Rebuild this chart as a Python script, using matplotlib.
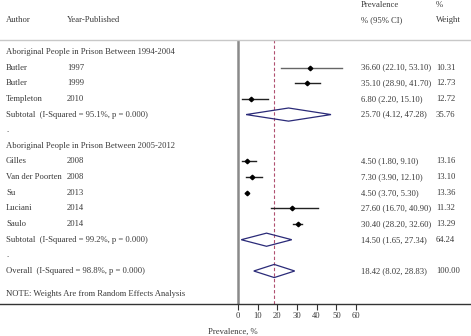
import matplotlib
matplotlib.use("Agg")
import matplotlib.pyplot as plt
import matplotlib.transforms as mtransforms
from matplotlib.patches import Polygon

# rows of the forest plot, top to bottom
authors = ["Butler", "Butler", "Templeton",
           "Gilles", "Van der Poorten", "Su", "Luciani", "Saulo"]
years = ["1997", "1999", "2010", "2008", "2008", "2013", "2014", "2014"]
est = [36.60, 35.10, 6.80, 4.50, 7.30, 4.50, 27.60, 30.40]
lo = [22.10, 28.90, 2.20, 1.80, 3.90, 3.70, 16.70, 28.20]
hi = [53.10, 41.70, 15.10, 9.10, 12.10, 5.30, 40.90, 32.60]
weights = ["10.31", "12.73", "12.72", "13.16", "13.10", "13.36", "11.32", "13.29"]
study_rows = [1, 2, 3, 7, 8, 9, 10, 11]

groups = ["Aboriginal People in Prison Between 1994-2004",
          "Aboriginal People in Prison Between 2005-2012"]
group_rows = [0, 6]

pooled_labels = ["Subtotal  (I-Squared = 95.1%, p = 0.000)",
                 "Subtotal  (I-Squared = 99.2%, p = 0.000)",
                 "Overall  (I-Squared = 98.8%, p = 0.000)"]
pooled_est = [25.70, 14.50, 18.42]
pooled_lo = [4.12, 1.65, 8.02]
pooled_hi = [47.28, 27.34, 28.83]
pooled_w = ["35.76", "64.24", "100.00"]
pooled_rows = [4, 12, 14]

xticks = [0, 10, 20, 30, 40, 50, 60]

W, H = 471, 336
fig = plt.figure(figsize=(W / 100, H / 100), dpi=100)
plt.rcParams['font.family'] = ['Liberation Serif', 'DejaVu Serif']
txt = "#3a3a3a"
fs = 6.2

# axes spans full width; x=0 lands at pixel 238, 1.967 px per unit
ppu = 1.967
x0 = 238
ax = fig.add_axes([0, 1 - 304 / H, 1, (304 - 40) / H])
ax.set_xlim(-x0 / ppu, (W - x0) / ppu)
row_h = 15.64
ax.set_ylim(14 + (304 - 271) / row_h, -(52 - 40) / row_h)

for s in ["left", "right"]:
    ax.spines[s].set_visible(False)
ax.spines["top"].set_color("#c8c8c8")
ax.spines["top"].set_linewidth(1.0)
ax.spines["bottom"].set_color("#333333")
ax.spines["bottom"].set_linewidth(1.0)
ax.set_yticks([])
ax.set_xticks(xticks)
ax.set_xticklabels([str(t) for t in xticks], fontsize=fs, color=txt)
ax.tick_params(axis="x", length=4, width=0.8, color="#333333", pad=1.5)

ax.axvline(0, color="#8a8a8a", lw=1.8, zorder=1)
ax.axvline(pooled_est[2], color="#b05070", lw=0.8, ls=(0, (3, 2)), zorder=1)

# studies
for i, r in enumerate(study_rows):
    c = "#666666" if i == 0 else "#222222"
    ax.plot([lo[i], hi[i]], [r, r], color=c, lw=1.0, zorder=3)
    ax.plot(est[i], r, marker="D", ms=2.3, color="black", zorder=4)

# pooled diamonds
for i, r in enumerate(pooled_rows):
    dh = 0.42
    poly = Polygon([[pooled_lo[i], r], [pooled_est[i], r - dh],
                    [pooled_hi[i], r], [pooled_est[i], r + dh]],
                   closed=True, fill=False, edgecolor="#2a2a78", lw=0.9, zorder=3)
    ax.add_patch(poly)

tr = mtransforms.blended_transform_factory(fig.transFigure, ax.transData)
xa, xy, xe, xw = 6 / W, 67 / W, 361 / W, 436 / W

for i, r in enumerate(study_rows):
    ax.text(xa, r, authors[i], transform=tr, fontsize=fs, color=txt, va="center")
    ax.text(xy, r, years[i], transform=tr, fontsize=fs, color=txt, va="center")
    ax.text(xe, r, "%.2f (%.2f, %.2f)" % (est[i], lo[i], hi[i]), transform=tr,
            fontsize=fs, color=txt, va="center")
    ax.text(xw, r, weights[i], transform=tr, fontsize=fs, color=txt, va="center")

for g, r in zip(groups, group_rows):
    ax.text(xa, r, g, transform=tr, fontsize=fs, color=txt, va="center")

for i, r in enumerate(pooled_rows):
    ax.text(xa, r, pooled_labels[i], transform=tr, fontsize=fs, color=txt, va="center")
    ax.text(xe, r, "%.2f (%.2f, %.2f)" % (pooled_est[i], pooled_lo[i], pooled_hi[i]),
            transform=tr, fontsize=fs, color=txt, va="center")
    ax.text(xw, r, pooled_w[i], transform=tr, fontsize=fs, color=txt, va="center")

for r in [5, 13]:
    ax.text(xa, r, ".", transform=tr, fontsize=fs, color=txt, va="center")

ax.text(xa, 15.5, "NOTE: Weights Are from Random Effects Analysis", transform=tr,
        fontsize=fs, color=txt, va="center")

# header
fig.text(xa, 1 - 20 / H, "Author", fontsize=fs, color=txt, va="center")
fig.text(xy, 1 - 20 / H, "Year-Published", fontsize=fs, color=txt, va="center")
fig.text(xe, 1 - 5 / H, "Prevalence", fontsize=fs, color=txt, va="center")
fig.text(xe, 1 - 20 / H, "% (95% CI)", fontsize=fs, color=txt, va="center")
fig.text(xw, 1 - 5 / H, "%", fontsize=fs, color=txt, va="center")
fig.text(xw, 1 - 20 / H, "Weight", fontsize=fs, color=txt, va="center")

fig.text(233 / W, 1 - 332 / H, "Prevalence, %", fontsize=fs, color=txt,
         va="center", ha="center")

fig.savefig("out.png", dpi=100)
